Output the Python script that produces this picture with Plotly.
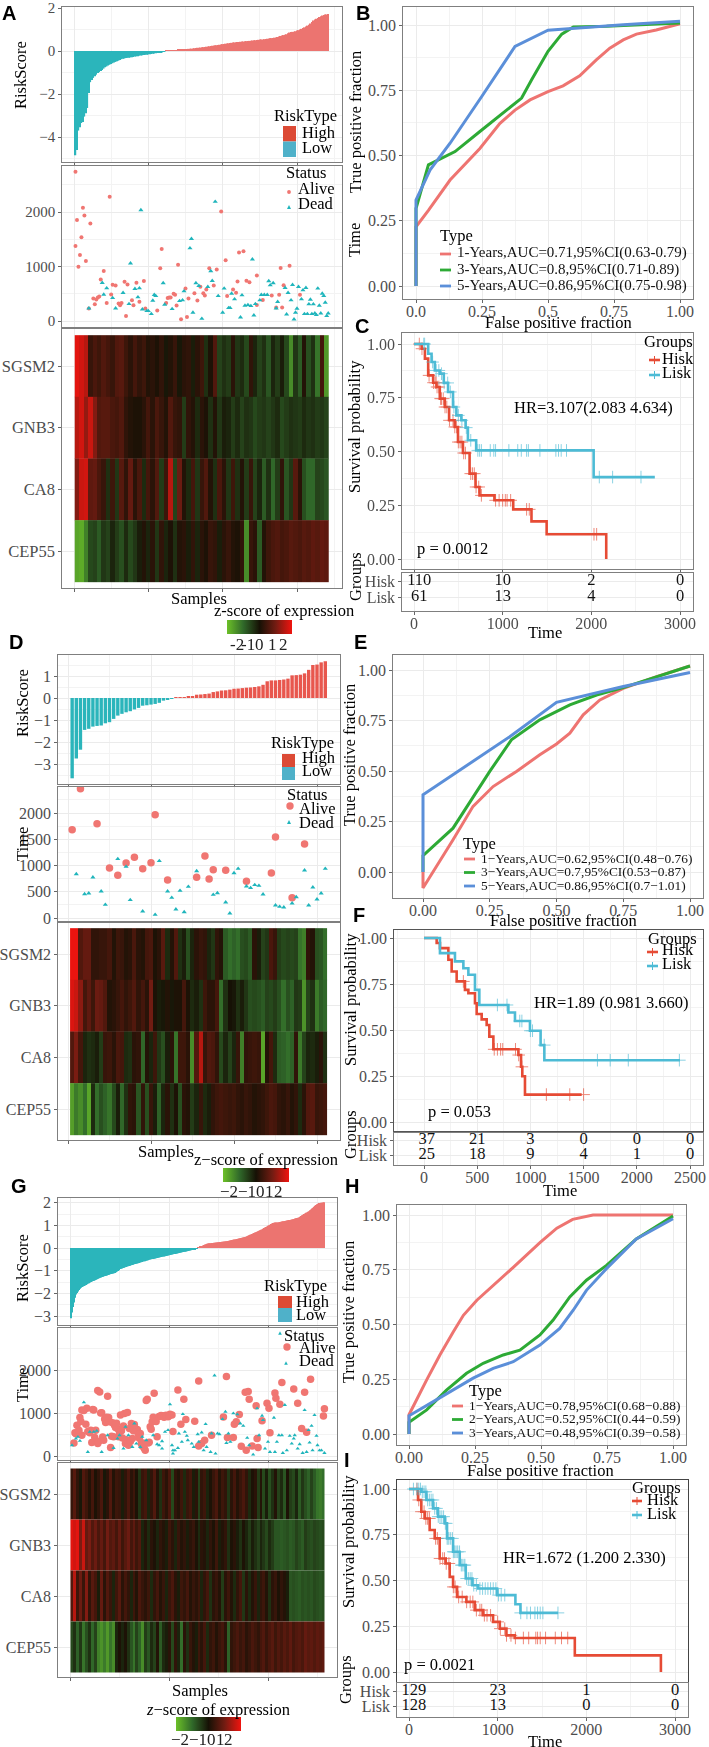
import plotly.graph_objects as go

W, H = 709, 1747
SERIF = "Liberation Serif"
GREY = "#4d4d4d"
RED_BAR, TEAL = "#EC7470", "#2BB5BB"
HISK, LISK = "#E64B35", "#4DBBD5"
ROC_R, ROC_G, ROC_B = "#EE7471", "#2DAA35", "#5B8FD9"
GENES = ["SGSM2", "GNB3", "CA8", "CEP55"]

# ---------- Panel A ----------
A_low = [-4.85,-4.6,-3.7,-3.55,-3.35,-3.3,-3.05,-2.9,-2.65,-1.95,-1.45,-1.35,-1.25,-1.18,-1.1,-1.02,-.98,-.93,-.88,-.82,
         -.76,-.72,-.68,-.64,-.6,-.57,-.54,-.51,-.48,-.45,-.42,-.38,-.36,-.35,-.33,-.32,-.31,-.30,-.29,-.28,
         -.26,-.25,-.24,-.22,-.21,-.2,-.19,-.18,-.17,-.16,-.15,-.14,-.13,-.12,-.1,-.09,-.08,-.06,-.05,-.03,-.01]
A_high = [.01,.01,.02,.02,.03,.03,.04,.04,.05,.05,.06,.07,.07,.08,.09,.1,.1,.11,.12,.13,
          .14,.15,.15,.16,.17,.18,.19,.2,.21,.22,.23,.24,.25,.26,.27,.28,.29,.3,.32,.33,
          .34,.35,.36,.37,.38,.39,.4,.41,.42,.42,.43,.44,.44,.45,.46,.47,.47,.48,.49,.5,
          .5,.51,.52,.53,.54,.54,.55,.56,.57,.58,.59,.6,.61,.62,.63,.65,.67,.7,.72,.74,
          .76,.78,.82,.86,.88,.89,.9,.92,.95,.97,1.0,1.03,1.07,1.1,1.14,1.18,1.22,1.28,1.35,1.42,
          1.46,1.5,1.54,1.58,1.62,1.65,1.68,1.7,1.7,1.72]
A_alive_x = [1,1,2,3,4,5,6,7,8,11,10,13,14,15,16,17,18,20,22,24,25,26,28,30,31,32,34,35,36,39,40,42,44,47,48,56,58,59,62,63,64,65,67,68,69,70,72,75,76,77,81,83,85,87,88,89,91,94,96,99,102,103,107,109,110,111,114,116,118,123,123,127,133,136,138,139,140,141,145,152]
A_alive_t = [2737,1378,1851,996,1212,1538,2079,1937,1101,1790,228,412,308,394,431,449,763,916,332,2282,486,664,652,320,289,332,720,92,670,381,289,701,351,732,228,191,966,1322,332,424,431,431,498,480,283,1033,31,597,74,412,510,375,627,510,467,578,966,652,947,2011,1113,461,578,517,726,1255,1279,738,713,295,836,387,467,246,480,972,246,658,1015,480]
A_dead_x = [10,19,20,22,26,28,33,37,38,41,43,44,45,46,49,50,52,53,54,55,60,61,66,71,73,74,78,79,80,82,84,86,90,92,93,95,97,100,101,104,105,106,108,112,113,115,117,119,120,121,122,125,126,128,130,131,132,134,136,137,142,143,144,146,147,148,149,150,151,153,154,155,156,157,158,159,160,161,162,163,164,165,166,167,168,169,170,171]
A_dead_t = [234,701,486,603,424,234,517,314,1058,590,437,603,2036,215,185,185,129,375,480,461,695,301,221,369,381,547,1335,1507,154,695,646,43,627,916,738,2189,461,154,597,240,240,504,400,68,474,283,295,277,1132,105,314,381,480,480,480,732,658,695,234,351,609,123,517,381,664,31,154,228,627,400,566,129,609,129,308,394,129,308,141,111,597,283,141,504,461,338,92,141]
A_heat = [
 [2.7,2.5,2.2,0.5,0.8,0.6,0.9,0.7,0.5,0.9,1.0,0.6,0.3,0.7,0.4,0.6,0.2,0.3,0.1,0.4,-0.1,0.2,0.5,-0.1,0.3,0.4,-0.2,0.3,0.6,-0.5,0.1,0.9,-0.8,-0.5,-0.7,0.3,-0.6,-0.4,-0.9,0.4,-0.3,-0.8,-0.5,-1.1,-0.3,-0.7,-0.2,-0.9,-2.0,-0.6,-1.2,0.2,-1.0,-0.5,-1.6,0.7,-2.2],
 [2.2,2.5,1.8,2.4,1.6,0.9,1.0,1.0,0.8,0.7,0.9,0.4,0.2,0.1,0.1,0.3,0.7,0.3,0.8,0.5,0.2,0.9,0.5,0.4,-0.7,0.4,0.2,-0.4,0.3,0.1,-0.5,0.2,-0.6,-0.2,-0.3,-0.7,-0.4,-0.8,-0.5,-0.6,-0.9,-0.7,-0.6,-0.8,-0.6,-0.4,-0.9,-0.7,-0.5,-0.6,-0.7,-0.4,-0.6,-0.5,-0.7,-0.6,-0.8],
 [1.6,2.4,2.5,1.1,1.2,0.8,0.5,-0.5,0.6,-0.6,1.0,0.4,1.2,0.3,0.8,-0.4,0.7,0.3,0.9,-0.7,0.6,2.2,-0.8,1.3,0.2,-0.4,0.7,-0.6,0.5,0.9,0.2,-0.5,0.8,0.3,-0.6,0.6,-0.5,0.2,-0.7,0.5,-0.8,-0.3,-1.2,-0.5,-1.4,-0.7,0.4,-1.1,-0.6,1.0,0.3,-1.0,-1.4,-1.4,-0.8,-0.9,-1.1],
 [-2.4,-2.5,-1.8,-0.9,-0.8,-1.2,-0.6,-0.8,-0.3,-0.7,-1.0,-0.4,-0.9,-0.6,-0.2,0.2,-0.3,0.3,-0.6,0.4,-0.3,0.1,-0.5,0.2,0.3,-0.2,0.4,-0.3,0.3,0.1,0.5,0.4,-0.2,0.3,0.5,0.2,0.1,0.4,-2.0,0.5,0.3,-1.2,0.2,0.6,0.8,0.9,0.7,0.8,1.0,0.9,0.8,1.0,0.9,1.1,1.0,1.2,1.1],
]
B_curves = [
 ("1-Years,AUC=0.71,95%CI(0.63-0.79)", ROC_R,
  [0,0,.047,.129,.242,.318,.375,.432,.5,.557,.62,.683,.734,.785,.835,.91,1],
  [0,.227,.29,.406,.527,.623,.674,.713,.745,.767,.805,.866,.911,.943,.965,.981,1.005]),
 ("3-Years,AUC=0.8,95%CI(0.71-0.89)", ROC_G,
  [0,0,.047,.148,.242,.306,.4,.438,.5,.552,.596,.722,1],
  [0,.297,.464,.515,.592,.643,.72,.79,.899,.965,.992,.995,1.008]),
 ("5-Years,AUC=0.86,95%CI(0.75-0.98)", ROC_B,
  [0,0,.053,.129,.249,.375,.5,.596,.785,1],
  [0,.329,.444,.547,.726,.918,.98,.988,1.001,1.014]),
]
C_hisk_t = [0,86,123,160,216,254,291,347,396,459,496,552,627,694,739,907,1119,1325,1496,2168]
C_hisk_s = [1,.978,.932,.854,.82,.80,.746,.707,.645,.614,.544,.493,.397,.335,.296,.273,.231,.175,.115,0]
C_lisk_t = [0,160,198,235,291,336,384,440,478,534,582,608,701,1056,2026,2716]
C_lisk_s = [1,.955,.916,.877,.862,.819,.777,.707,.668,.645,.611,.552,.505,.505,.381,.381]
C_hisk_cens = [60,90,170,220,240,250,260,280,300,310,330,350,370,400,440,460,480,500,520,540,560,580,640,660,680,700,730,760,920,960,1000,1030,1050,1090,1270,1300,2030,2060]
C_lisk_cens = [110,120,210,250,280,310,340,380,410,450,500,540,590,640,720,740,760,860,900,920,1070,1170,1210,1270,1290,1420,1600,1630,1660,1720,2090,2240,2560]
C_table_x = [60,1000,2000,3000]
C_table_hisk = ["110","10","2","0"]
C_table_lisk = ["61","13","4","0"]

# ---------- Panel D ----------
D_low = [-3.65,-2.75,-2.35,-1.45,-1.4,-1.3,-1.27,-1.25,-1.15,-1.1,-.95,-.8,-.72,-.65,-.6,-.52,-.45,-.35,-.33,-.3,-.27,-.22,-.12,-.07,-.04]
D_high = [.02,.03,.04,.05,.06,.15,.16,.18,.2,.27,.3,.34,.35,.38,.42,.43,.45,.47,.48,.5,.53,.6,.76,.8,.8,.82,.84,.88,1.03,1.04,1.06,1.12,1.28,1.5,1.52,1.62,1.67]
D_alive_x = [1,3,7,10,12,14,16,18,20,21,24,31,33,34,35,38,43,49,50,54,57]
D_alive_t = [1683,2464,1797,952,813,1048,1156,940,1054,1968,724,775,1181,743,921,908,698,857,1543,387,1410]
D_dead_x = [2,4,5,6,8,9,12,14,15,18,21,22,24,25,26,27,28,29,31,35,36,38,39,40,41,43,44,45,46,47,50,51,52,54,55,57,58,59,60,61,62]
D_dead_t = [838,457,470,775,508,254,1124,978,343,127,64,1086,508,387,165,521,114,597,895,445,476,298,89,857,940,603,572,629,616,451,241,216,203,279,400,908,241,584,356,470,940]
D_heat = [
 [2.8,2.8,0.9,1.2,1.2,0.4,0.4,0.5,0.5,0.7,0.2,0.6,0.5,0.2,0.3,0.8,0.3,0.2,0.7,0.8,0.1,0.3,1.0,-0.4,0.2,0.9,-0.5,-0.2,-1.0,-0.3,0.3,0.5,0.4,-0.3,-0.6,0.4,0.2,-1.2,-1.5,-1.3,-1.5,-1.0,-0.9,-1.2,0.3,-0.2,-0.8,-0.6,0.8,0.5,-0.7,-0.9,-0.8,-0.9,-0.8,-1.6,-1.8,0.4,0.2,-1.0,-1.1,-1.5],
 [2.6,2.4,1.7,0.7,1.1,0.6,1.3,1.2,0.9,0.2,0.3,0.5,0.7,0.4,0.6,0.9,0.4,0.7,0.3,1.4,0.1,-0.2,-0.1,0.2,-0.1,0.1,0.1,0.7,0.1,-0.4,-0.2,-0.5,0.6,0.3,0.3,0.7,-1.5,-0.5,0.0,-0.1,-0.5,-0.2,-0.6,-1.0,-0.9,-1.0,-1.2,-0.8,-0.9,-0.7,-1.0,-1.5,-1.0,-1.3,-0.6,-0.7,-2.1,-0.8,-0.5,-1.7,-1.2,-1.4],
 [0.9,1.5,0.7,-0.3,-0.5,-0.4,-0.2,-0.7,0.5,0.6,0.3,0.8,0.7,-0.4,-0.5,0.3,0.4,-1.4,0.2,-0.3,0.6,-0.6,-1.0,-0.2,0.3,-1.6,0.6,0.6,0.3,-2.0,0.9,2.2,0.5,0.9,0.8,0.4,-0.9,-0.3,-0.8,-0.3,0.5,-1.8,0.4,0.5,0.6,0.5,-2.4,0.2,0.7,-0.4,-1.2,-1.3,-1.5,-1.3,0.4,-1.7,-0.8,-0.3,-0.4,-0.2,0.3,-0.5],
 [-2.3,-1.7,-2.0,-1.5,-2.4,-0.4,-1.5,-1.0,-1.3,-1.6,-0.9,-0.2,-1.4,-0.5,0.4,0.3,-1.1,0.4,-1.0,0.5,-0.2,-1.3,-0.3,0.3,-0.5,0.1,-1.0,0.3,0.2,-0.7,-0.3,0.5,-0.4,-0.2,0.4,0.6,0.7,0.6,0.5,0.6,0.4,0.3,0.5,0.4,0.2,0.3,0.4,0.6,0.8,0.7,0.4,0.3,0.5,0.2,0.4,-0.4,0.3,0.9,1.0,0.5,0.6,0.7],
]
E_curves = [
 ("1\u2212Years,AUC=0.62,95%CI(0.48\u22120.76)", ROC_R,
  [0,0,.1125,.1875,.2625,.35,.4375,.5,.55,.6,.6625,.75,.875,1],
  [0,-.079,.16,.325,.423,.498,.58,.634,.687,.778,.852,.909,.967,1.02]),
 ("3\u2212Years,AUC=0.7,95%CI(0.53\u22120.87)", ROC_G,
  [0,0,.1125,.1875,.25,.331,.4375,.55,.65,.75,1],
  [0,.081,.217,.374,.498,.654,.753,.827,.876,.913,1.02]),
 ("5\u2212Years,AUC=0.86,95%CI(0.7\u22121.01)", ROC_B,
  [0,0,.325,.5,.75,1],
  [0,.382,.67,.84,.918,.988]),
]
F_hisk_t = [0,103,119,150,229,260,307,385,417,479,495,542,589,614,652,871,887,912,924,949,1482]
F_hisk_s = [1,1,.973,.945,.882,.818,.764,.718,.70,.645,.587,.558,.527,.464,.395,.395,.364,.30,.249,.149,.149]
F_lisk_t = [0,88,150,291,370,417,479,520,526,793,855,996,1096,1131,2406]
F_lisk_s = [1,1,.918,.873,.836,.80,.718,.636,.636,.595,.549,.496,.418,.336,.336]
F_hisk_cens = [370,660,690,720,740,860,890,920,1150,1370,1500]
F_lisk_cens = [690,780,900,920,1000,1020,1130,1630,1750,1920,2400]
F_table_x = [25,500,1000,1500,2000,2500]
F_table_hisk = ["37","21","3","0","0","0"]
F_table_lisk = ["25","18","9","4","1","0"]

# ---------- Panel G ----------
G_low = [-3.1,-2.85,-2.6,-2.4,-2.2,-2.05,-1.98,-1.92,-1.85,-1.8,-1.75,-1.72,-1.7,-1.68,-1.65,-1.63,-1.6,-1.57,-1.55,-1.52,
         -1.5,-1.48,-1.46,-1.44,-1.42,-1.4,-1.38,-1.36,-1.33,-1.31,-1.3,-1.28,-1.27,-1.25,-1.24,-1.22,-1.21,-1.19,-1.18,-1.16,
         -1.15,-1.14,-1.12,-1.11,-1.1,-1.07,-1.04,-1.01,-.98,-.95,-.93,-.91,-.9,-.88,-.87,-.85,-.84,-.82,-.81,-.79,-.78,-.76,
         -.75,-.74,-.72,-.71,-.7,-.68,-.67,-.66,-.64,-.63,-.62,-.6,-.59,-.58,-.56,-.55,-.54,-.52,-.51,-.5,-.49,-.48,-.47,-.46,
         -.45,-.44,-.43,-.42,-.41,-.4,-.39,-.38,-.37,-.36,-.35,-.34,-.33,-.32,-.31,-.3,-.29,-.28,-.27,-.26,-.25,-.24,-.23,-.22,
         -.21,-.2,-.19,-.18,-.17,-.16,-.15,-.14,-.13,-.12,-.11,-.1,-.09,-.08,-.07,-.05,-.04,-.02]
G_high = [.01,.03,.05,.07,.09,.11,.13,.15,.17,.19,.2,.205,.21,.215,.22,.225,.23,.235,.24,.245,
          .25,.255,.26,.265,.27,.275,.28,.285,.29,.295,.3,.31,.32,.33,.34,.35,.36,.37,.38,.39,
          .4,.41,.42,.43,.44,.45,.46,.47,.48,.5,.52,.54,.56,.58,.6,.62,.64,.66,.68,.7,.72,.74,.76,.78,.8,
          .82,.85,.88,.9,.93,.95,.98,1.0,1.03,1.06,1.08,1.1,1.11,1.12,1.12,1.13,1.13,1.14,1.15,1.16,1.17,1.18,1.18,1.19,1.2,
          1.21,1.22,1.23,1.24,1.25,1.26,1.27,1.28,1.3,1.31,1.32,1.33,1.35,1.38,1.41,1.44,1.47,1.5,1.52,1.55,1.57,1.6,1.62,
          1.66,1.7,1.74,1.78,1.82,1.86,1.9,1.93,1.95,1.97,1.98,1.99,2.0,2.0,2.01,2.02]
G_alive_x = [4,5,7,7,10,12,12,16,17,20,22,24,26,28,30,28,32,34,36,38,39,40,41,43,44,45,48,49,51,52,55,56,59,62,63,66,68,71,72,76,78,80,81,83,85,86,88,94,99,103,104,109,112,115,117,126,130,130,133,136,143,155,158,159,165,166,168,171,173,177,178,180,181,184,188,189,190,194,199,201,202,207,208,212,214,226,230,234,237,239,243,256,257,
             6,9,11,14,18,21,23,25,29,31,33,35,37,42,46,47,50,53,54,57,58,60,61,64,65,69,70,73,74,75,77,79,82,84,87,90,92,95,97,100,101]
G_alive_t = [304,538,718,523,897,1069,484,741,1108,538,312,1069,601,1521,1490,289,1006,367,780,1388,897,796,195,772,445,718,640,445,952,585,991,289,250,757,406,640,616,523,289,133,1318,320,679,796,1459,874,445,936,913,952,569,1537,741,1318,850,811,234,1747,289,367,484,905,1849,429,429,741,796,967,226,1482,133,1498,1318,234,1170,406,195,819,1225,1108,538,1466,1342,1201,1708,1560,1225,640,1482,554,1786,928,1100,
             520,600,800,1060,570,600,1080,430,340,1000,440,860,900,460,660,760,560,420,700,380,1010,640,340,590,730,500,410,230,300,180,1290,300,620,900,800,920,940,900,950,930,970]
G_dead_x = [2,6,8,10,14,18,20,24,27,32,38,44,48,50,54,56,59,63,65,67,71,73,77,84,88,90,93,93,96,99,101,103,104,104,106,109,110,113,114,116,118,119,123,125,129,130,133,135,137,138,142,143,146,147,149,151,154,157,158,160,162,165,169,172,175,179,181,185,189,191,194,195,197,200,202,206,207,209,211,214,215,217,219,222,224,226,227,230,232,235,237,239,241,242,244,245,247,249,250,252,254,257]
G_dead_t = [250,406,445,351,1248,94,562,562,585,94,484,187,406,484,172,679,484,211,757,289,211,445,367,484,273,250,343,172,562,601,1201,250,133,55,133,187,523,328,975,562,468,367,289,211,507,328,546,133,741,211,94,523,1872,55,523,507,858,1030,304,523,328,991,967,757,702,421,250,31,1108,484,936,835,172,328,94,889,94,328,484,484,70,1186,133,468,289,406,484,172,273,70,1069,94,601,312,702,133,952,468,250,133,133,70]
G_heat = [
 [0.5,1.0,0.4,-0.1,0.9,0.6,0.2,0.7,0.1,0.4,0.8,-0.1,0.3,0.9,0.2,0.6,0.5,-0.2,0.4,0.8,0.3,0.6,0.1,-0.6,0.5,0.7,-0.3,0.4,0.9,0.2,-0.5,0.6,0.3,0.8,-0.9,0.4,0.2,0.6,-0.4,0.5,0.7,-0.2,0.3,-0.8,0.4,0.6,-0.3,0.1,0.5,0.8,0.2,0.6,0.4,-0.6,0.3,0.7,0.2,0.5,0.8,0.4,-0.4,0.1,0.3,-0.7,0.2,-0.9,-0.2,-1.0,-0.5,0.2,-0.8,-0.4,-1.1,0.1,-0.7,-0.9,-0.3,-1.2,-0.6,-1.0,-1.3,-0.8,-1.2,-1.6,-1.7,-1.5],
 [2.7,2.5,2.7,1.5,2.4,1.2,1.5,0.9,1.3,0.8,1.2,0.7,1.4,0.9,1.1,0.7,1.2,0.6,1.0,1.3,0.7,1.1,0.6,0.9,-0.3,0.2,-0.4,0.3,0.1,-0.3,0.4,0.2,-0.2,0.6,0.3,-0.3,0.5,0.2,0.4,-0.2,0.3,0.5,0.1,-0.4,0.3,0.2,-0.3,0.4,0.1,0.6,-0.2,0.2,0.4,-0.5,0.1,0.3,-0.2,-0.5,0.1,-0.3,-0.7,-0.2,-0.5,-0.8,-0.3,-0.6,-0.9,-0.4,-0.7,-1.1,-1.1,-1.2,-1.1,-1.0,-1.2,-1.1,-0.8,-1.0,-1.2,-0.7,-0.9,-1.0,-0.8,-0.9,-1.0,-0.9],
 [0.9,2.2,0.6,1.3,0.5,1.6,0.4,1.0,0.7,-0.2,1.2,0.3,0.9,0.5,-0.3,0.6,1.0,0.3,0.7,0.4,-0.3,0.6,0.2,0.8,0.5,0.3,0.6,-0.4,0.4,0.7,0.2,0.5,-0.3,0.5,0.8,0.3,-0.2,0.6,0.4,0.7,0.2,0.5,0.3,0.6,-0.3,0.4,0.7,-0.5,0.3,0.5,0.2,-0.7,0.3,0.6,0.2,-0.4,0.4,0.7,-0.6,0.3,-0.4,0.2,0.5,-0.3,0.4,0.6,0.2,-0.5,0.3,0.5,0.1,0.4,0.2,-0.2,-1.1,-1.0,-1.1,-1.2,-1.0,-1.1,-1.0,-1.1,-0.9,-1.0,-1.1,-1.0],
 [-0.9,-0.5,-1.3,-0.6,-1.6,-1.0,-0.5,-1.4,-0.8,-1.8,-2.1,-1.7,-2.2,-1.6,-2.0,-0.3,0.1,-0.3,0.1,-0.5,-1.1,-1.6,-0.8,-1.3,-2.0,-0.7,-1.1,-0.4,-0.8,0.2,-1.2,-0.4,-0.2,0.3,-0.9,0.4,-0.3,-1.5,0.3,-0.5,0.5,0.2,-0.2,0.6,0.3,0.7,-0.4,0.4,0.6,0.2,0.5,0.7,0.3,-1.3,0.4,0.6,0.8,0.5,0.7,0.3,0.5,0.8,0.6,0.4,0.7,0.9,0.5,0.8,1.0,0.6,0.9,0.7,1.0,0.8,1.1,0.7,0.9,1.0,0.8,1.2,1.0,1.1,0.9,1.1,1.0,1.1],
]
H_curves = [
 ("1\u2212Years,AUC=0.78,95%CI(0.68\u22120.88)", ROC_R,
  [0,0,.067,.117,.168,.206,.257,.32,.396,.497,.56,.62,.697,1],
  [0,.088,.247,.361,.467,.542,.611,.679,.762,.875,.94,.98,1,1]),
 ("2\u2212Years,AUC=0.52,95%CI(0.44\u22120.59)", ROC_G,
  [0,0,.067,.142,.218,.281,.357,.42,.496,.546,.609,.672,.748,.861,1],
  [0,.053,.11,.2,.277,.323,.361,.383,.452,.52,.626,.702,.77,.891,.995]),
 ("3\u2212Years,AUC=0.48,95%CI(0.39\u22120.58)", ROC_B,
  [0,0,.092,.168,.243,.319,.395,.496,.571,.622,.672,.748,.861,1],
  [0,.083,.148,.2,.255,.3,.33,.406,.482,.565,.656,.755,.891,.983]),
]
I_hisk_t = [0,75,102,139,177,233,290,346,414,459,497,542,647,741,835,948,1024,1099,1193,1870,2841]
I_hisk_s = [1,1,.94,.876,.839,.776,.73,.62,.593,.52,.465,.41,.383,.338,.31,.274,.237,.20,.186,.091,0]
I_lisk_t = [0,139,196,271,327,403,429,497,572,640,715,779,994,1200,1257,1682]
I_lisk_s = [1,.985,.94,.894,.849,.812,.73,.657,.584,.511,.474,.456,.42,.37,.323,.323]
I_hisk_cens = [90,110,140,170,190,210,230,300,320,350,380,400,420,450,500,520,560,600,650,690,720,760,800,820,850,880,920,1000,1030,1080,1100,1150,1200,1290,1350,1430,1450,1480,1540,1650,1720,1790]
I_lisk_cens = [50,90,110,130,150,170,190,210,230,250,270,290,310,330,350,370,390,410,420,430,440,450,470,490,500,510,520,540,550,570,590,600,620,630,650,670,690,710,730,760,800,830,860,890,920,950,980,1010,1040,1080,1260,1330,1370,1420,1450,1480,1510,1680]
I_table_x = [55,1000,2000,3000]
I_table_hisk = ["129","23","1","0"]
I_table_lisk = ["128","13","0","0"]

# ---------- helpers ----------
fig = go.Figure()
n_ax = 0
anns, shapes = [], []

def minor_grid(step):
    if not step:
        return dict(showgrid=False)
    return dict(dtick=step, tick0=0, showgrid=True, gridcolor="#f3f3f3", gridwidth=1, ticks="")

def axis(box0, box1, p0, v0, p1, v1, ticks, labels, size, minor, border, flip=False):
    """box0/box1 panel edges in px; (p0,v0),(p1,v1) calibrate px to axis value."""
    scale = (v1 - v0) / (p1 - p0)
    rng = [v0 + (box0 - p0) * scale, v0 + (box1 - p0) * scale]
    dom = [box0 / W, box1 / W] if not flip else sorted([1 - box0 / H, 1 - box1 / H])
    d = dict(domain=dom, range=rng, tickmode="array", tickvals=ticks, ticks="outside", ticklen=2.5,
             tickwidth=1, tickcolor="#666", showline=True, mirror=True, linecolor=border, linewidth=1.4,
             showgrid=True, gridcolor="#ebebeb", gridwidth=1, zeroline=False, minor=minor_grid(minor),
             tickfont=dict(family=SERIF, size=size, color=GREY))
    if not flip:
        d["ticklabelstandoff"] = -5
    if labels is None:
        d["showticklabels"] = False
    else:
        d["ticktext"] = labels
    return d

def panel(left, right, top, bottom, xcal, ycal, xt, yt, xl=None, yl=None, xm=None, ym=None,
          size=16, border="#7f7f7f"):
    global n_ax
    n_ax += 1
    n = n_ax
    xa = axis(left, right, xcal[0], xcal[1], xcal[2], xcal[3], xt, xl, size, xm, border)
    ya = axis(bottom, top, ycal[0], ycal[1], ycal[2], ycal[3], yt, yl, size, ym, border, flip=True)
    xa["anchor"] = "y%d" % n
    ya["anchor"] = "x%d" % n
    fig.update_layout(**{"xaxis%d" % n: xa, "yaxis%d" % n: ya})
    return "x%d" % n, "y%d" % n

def T(x, y, text, size=16.5, color="black", anchor="center", angle=0, bold=False, family=SERIF):
    anns.append(dict(x=x / W, y=1 - y / H, xref="paper", yref="paper", text=text, showarrow=False,
                     xanchor=anchor, yanchor="middle", textangle=angle,
                     font=dict(family=family, size=size, color=color), borderpad=0, borderwidth=0))

def label(x, y, ch):
    T(x, y, "<b>%s</b>" % ch, size=20, family="Liberation Sans")

def rect(x0, y0, x1, y1, color):
    shapes.append(dict(type="rect", xref="paper", yref="paper", x0=x0 / W, x1=x1 / W, y0=1 - y0 / H, y1=1 - y1 / H,
                       fillcolor=color, line=dict(width=0), layer="above"))

def hline(x0, x1, y, color, w=2.5):
    shapes.append(dict(type="line", xref="paper", yref="paper", x0=x0 / W, x1=x1 / W, y0=1 - y / H, y1=1 - y / H,
                       line=dict(color=color, width=w), layer="above"))

def vline(x, y0, y1, color, w=1):
    shapes.append(dict(type="line", xref="paper", yref="paper", x0=x / W, x1=x / W, y0=1 - y0 / H, y1=1 - y1 / H,
                       line=dict(color=color, width=w), layer="above"))

def dot(x, y, r, color):
    shapes.append(dict(type="circle", xref="paper", yref="paper", x0=(x - r) / W, x1=(x + r) / W,
                       y0=1 - (y - r) / H, y1=1 - (y + r) / H, fillcolor=color, line=dict(width=0), layer="above"))

def tri(x, y, r, color):
    path = "M %f %f L %f %f L %f %f Z" % ((x - r) / W, 1 - (y + r) / H, (x + r) / W, 1 - (y + r) / H, x / W, 1 - (y - r) / H)
    shapes.append(dict(type="path", xref="paper", yref="paper", path=path, fillcolor=color, line=dict(width=0), layer="above"))

def bars(xa, ya, low, high, width, low_c, high_c):
    fig.add_trace(go.Bar(x=list(range(1, len(low) + 1)), y=low, width=width, marker=dict(color=low_c, line=dict(width=0)),
                         xaxis=xa, yaxis=ya, showlegend=False))
    fig.add_trace(go.Bar(x=list(range(len(low) + 1, len(low) + len(high) + 1)), y=high, width=width,
                         marker=dict(color=high_c, line=dict(width=0)), xaxis=xa, yaxis=ya, showlegend=False))

def points(xa, ya, ax, at, dx, dt, alive_size, dead_size):
    fig.add_trace(go.Scatter(x=ax, y=at, mode="markers", marker=dict(color="#F07672", size=alive_size, line=dict(width=0)),
                             xaxis=xa, yaxis=ya, showlegend=False))
    fig.add_trace(go.Scatter(x=dx, y=dt, mode="markers", marker=dict(color="#1FB5BC", size=dead_size, symbol="triangle-up", line=dict(width=0)),
                             xaxis=xa, yaxis=ya, showlegend=False))

COLORSCALE = [[0, "rgb(108,192,40)"], [0.25, "rgb(48,105,42)"], [0.5, "rgb(22,17,5)"], [0.75, "rgb(115,28,18)"], [1, "rgb(240,20,15)"]]

def heat(xa, ya, rows, n, cb_x, cb_y, cb_len):
    for i, row in enumerate(rows):
        dx = n / len(row)
        tr = go.Heatmap(z=[row], x0=0.5 + dx / 2, dx=dx, y0=3 - i, dy=1, zmin=-2.85, zmax=2.85, colorscale=COLORSCALE,
                        xaxis=xa, yaxis=ya, showscale=(i == 0), hoverinfo="skip")
        if i == 0:
            tr.colorbar = dict(orientation="h", x=cb_x / W, y=1 - cb_y / H, xanchor="left", yanchor="top",
                               len=cb_len, lenmode="pixels", thickness=14, thicknessmode="pixels", outlinewidth=0,
                               showticklabels=False, ticks="", xpad=0, ypad=0)
        fig.add_trace(tr)

def cb_labels(y, xs, texts):
    for x, t in zip(xs, texts):
        T(x, y, t, size=17, color="#222")

def roc(xa, ya, curves, lx, ly, dy, tsize):
    for (name, col, fx, ty) in curves:
        fig.add_trace(go.Scatter(x=fx, y=ty, mode="lines", line=dict(color=col, width=3), xaxis=xa, yaxis=ya, showlegend=False))
    for i, (name, col, fx, ty) in enumerate(curves):
        y = ly + i * dy
        hline(lx, lx + 11, y + 1, col, 2.8)
        T(lx + 17, y, name, size=tsize, anchor="left", color="#111")

def step_at(ts, ss, t):
    val = ss[0]
    for a, b in zip(ts, ss):
        if a <= t:
            val = b
    return val

def km(xa, ya, t, s, cens, col):
    fig.add_trace(go.Scatter(x=t, y=s, mode="lines", line=dict(color=col, width=2.6, shape="hv"), xaxis=xa, yaxis=ya, showlegend=False))
    fig.add_trace(go.Scatter(x=cens, y=[step_at(t, s, c) for c in cens], mode="markers", opacity=0.65,
                             marker=dict(symbol="cross-thin", size=9, color=col, line=dict(color=col, width=1)),
                             xaxis=xa, yaxis=ya, showlegend=False))

def table(xa, ya, xs, hisk, lisk):
    fig.add_trace(go.Scatter(x=xs, y=[1] * len(xs), text=hisk, mode="text", textfont=dict(family=SERIF, size=16.5, color="#111"),
                             textposition="middle center", xaxis=xa, yaxis=ya, showlegend=False))
    fig.add_trace(go.Scatter(x=xs, y=[0] * len(xs), text=lisk, mode="text", textfont=dict(family=SERIF, size=16.5, color="#111"),
                             textposition="middle center", xaxis=xa, yaxis=ya, showlegend=False))

def km_legend(cx, ty, lx0, lx1, tx, hy, ly):
    T(cx, ty, "Groups", size=16.5)
    for y, col, name in [(hy, HISK, "Hisk"), (ly, LISK, "Lisk")]:
        hline(lx0, lx1, y + 2, col, 2.6)
        vline((lx0 + lx1) / 2, y - 2, y + 6, col, 1)
        T(tx, y, name, size=16.5, anchor="left")

def risk_legend(cx, ty, x0, x1, y0, y1, y2, tx, hy, ly):
    T(cx, ty, "RiskType", size=16.5)
    rect(x0, y0, x1, y1, "#DC4A35")
    rect(x0, y1, x1, y2, "#4FB1C9")
    T(tx, hy, "High", size=16.5, anchor="left")
    T(tx, ly, "Low", size=16.5, anchor="left")

OFF = ["%s" % g for g in GENES]
ROC_TICKS = [0, .25, .5, .75, 1]
ROC_LABELS = ["0.00", "0.25", "0.50", "0.75", "1.00"]

# ---------- A ----------
ax_cal = (74, 0, 297, 150)
xa, ya = panel(62, 342, 7, 162, ax_cal, (51, 0, 137, -4), [0, 50, 100, 150], [-4, -2, 0, 2],
               yl=["\u22124", "\u22122", "0", "2"], ym=1, xm=25, size=15)
bars(xa, ya, A_low, A_high, 1, TEAL, RED_BAR)
xa, ya = panel(62, 342, 166, 327, ax_cal, (321, 0, 212, 2000), [0, 50, 100, 150], [0, 1000, 2000],
               yl=["0", "1000", "2000"], xm=25, ym=500, size=15)
points(xa, ya, A_alive_x, A_alive_t, A_dead_x, A_dead_t, 4, 4.5)
xa, ya = panel(62, 342, 329, 588, ax_cal, (551, 0, 366, 3), [0, 50, 100, 150], [3, 2, 1, 0], yl=OFF, xm=25, size=16.5)
heat(xa, ya, A_heat, 171, 227, 620, 65)
cb_labels(644, [237, 248, 259, 272, 283], ["-2", "-1", "0", "1", "2"])
T(20, 75, "RiskScore", angle=-90)
T(199, 599, "Samples")
T(284, 610, "z-score of expression")
risk_legend(305, 115, 283, 296, 126, 141.5, 157, 302, 132, 148)
T(286, 173, "Status", size=16.5, anchor="left")
T(298, 189, "Alive", size=16.5, anchor="left")
T(298, 204, "Dead", size=16.5, anchor="left")
dot(289, 192, 1.9, "#F07672")
tri(289, 207, 2, "#1FB5BC")
label(9, 13, "A")

# ---------- B ----------
xa, ya = panel(403, 693, 7, 299, (416, 0, 680, 1), (286, 0, 25, 1), ROC_TICKS, ROC_TICKS,
               xl=["0.0", "0.25", "0.5", "0.75", "1.00"], yl=ROC_LABELS, xm=.125, ym=.125)
roc(xa, ya, B_curves, 440, 253, 16, 15)
T(558, 322, "False positive fraction")
T(355, 122, "True positive fraction", angle=-90)
T(355, 240, "Time", angle=-90)
T(440, 236, "Type", anchor="left")
label(363, 13, "B")

# ---------- C ----------
kx = (414, 0, 680, 3000)
xa, ya = panel(402, 693, 333, 569, kx, (559, 0, 344, 1), [0, 1000, 2000, 3000], ROC_TICKS,
               yl=ROC_LABELS, xm=500, ym=.125)
km(xa, ya, C_hisk_t, C_hisk_s, C_hisk_cens, HISK)
km(xa, ya, C_lisk_t, C_lisk_s, C_lisk_cens, LISK)
T(593, 407, "HR=3.107(2.083 4.634)")
T(452, 548, "p = 0.0012")
km_legend(668, 341, 649, 660, 662, 358, 373)
xa, ya = panel(402, 693, 573, 611, kx, (597, 0, 581, 1), [0, 1000, 2000, 3000], [1, 0], xl=["0", "1000", "2000", "3000"],
               yl=["Hisk", "Lisk"], xm=500)
table(xa, ya, C_table_x, C_table_hisk, C_table_lisk)
T(545, 632, "Time")
T(355, 427, "Survival probability", angle=-90)
T(355, 577, "Groups", angle=-90)
label(362, 326, "C")

# ---------- D ----------
dx_cal = (68, 0, 317, 60)
xa, ya = panel(58, 340, 655, 784, dx_cal, (698, 0, 764, -3), [0, 20, 40, 60], [-3, -2, -1, 0, 1],
               yl=["\u22123", "\u22122", "\u22121", "0", "1"], xm=10, ym=.5)
bars(xa, ya, D_low, D_high, 0.82, TEAL, "#E8574E")
xa, ya = panel(58, 340, 787, 921, dx_cal, (918, 0, 813, 2000), [0, 20, 40, 60], [0, 500, 1000, 1500, 2000, 2500],
               yl=["0", "500", "1000", "1500", "2000", "2500"], xm=10, ym=250)
points(xa, ya, D_alive_x, D_alive_t, D_dead_x, D_dead_t, 7.5, 4.5)
xa, ya = panel(58, 340, 923, 1140, dx_cal, (1109, 0, 954, 3), [0, 20, 40, 60], [3, 2, 1, 0], yl=OFF, xm=10, size=16)
heat(xa, ya, D_heat, 62, 223, 1168, 66)
cb_labels(1191, [229, 247, 260, 269, 278], ["\u22122", "\u22121", "0", "1", "2"])
T(22, 703, "RiskScore", angle=-90)
T(22, 844, "Time", angle=-90)
T(166, 1151, "Samples")
T(266, 1159, "z\u2212score of expression")
risk_legend(302, 742, 282, 295, 754, 767, 780, 302, 757, 770)
T(287, 794, "Status", size=16.5, anchor="left")
T(299, 808, "Alive", size=16.5, anchor="left")
T(299, 822, "Dead", size=16.5, anchor="left")
dot(290, 806, 3.7, "#F07672")
tri(289, 822, 2, "#1FB5BC")
label(16, 642, "D")

# ---------- E ----------
xa, ya = panel(393, 703, 655, 898, (423, 0, 690, 1), (872, 0, 670, 1), ROC_TICKS, ROC_TICKS,
               xl=ROC_LABELS, yl=ROC_LABELS, xm=.125, ym=.125)
roc(xa, ya, E_curves, 464, 858, 13.5, 13.4)
T(563, 920, "False positive fraction")
T(350, 755, "True positive fraction", angle=-90)
T(463, 843, "Type", anchor="left")
label(360, 642, "E")

# ---------- F ----------
fx_cal = (424, 0, 690, 2500)
dark = "#555555"
xa, ya = panel(394, 703, 930, 1131, fx_cal, (1122, 0, 938, 1), [0, 500, 1000, 1500, 2000, 2500], ROC_TICKS,
               yl=ROC_LABELS, xm=250, ym=.125, border=dark)
km(xa, ya, F_hisk_t, F_hisk_s, F_hisk_cens, HISK)
km(xa, ya, F_lisk_t, F_lisk_s, F_lisk_cens, LISK)
T(611, 1003, "HR=1.89 (0.981 3.660)")
T(459, 1111, "p = 0.053")
km_legend(672, 938, 647, 658, 662, 950, 964)
xa, ya = panel(394, 703, 1133, 1165, fx_cal, (1155, 0, 1140, 1), [0, 500, 1000, 1500, 2000, 2500], [1, 0],
               xl=["0", "500", "1000", "1500", "2000", "2500"], yl=["Hisk", "Lisk"], xm=250)
table(xa, ya, F_table_x, F_table_hisk, F_table_lisk)
T(560, 1190, "Time")
T(350, 1000, "Survival probability", angle=-90)
T(350, 1135, "Groups", angle=-90)
label(359, 915, "F")

# ---------- G ----------
gx_cal = (70, 0, 268, 200)
xa, ya = panel(58, 337, 1198, 1325, gx_cal, (1248, 0, 1316, -3), [0, 100, 200], [-3, -2, -1, 0, 1, 2],
               yl=["\u22123", "\u22122", "\u22121", "0", "1", "2"], xm=50, ym=.5)
bars(xa, ya, G_low, G_high, 1, TEAL, RED_BAR)
xa, ya = panel(58, 337, 1328, 1460, gx_cal, (1456, 0, 1370, 2000), [0, 100, 200], [0, 1000, 2000],
               yl=["0", "1000", "2000"], xm=50, ym=500)
points(xa, ya, G_alive_x, G_alive_t, G_dead_x, G_dead_t, 7.5, 3.8)
xa, ya = panel(58, 337, 1463, 1677, gx_cal, (1647, 0, 1494, 3), [0, 100, 200], [3, 2, 1, 0], yl=OFF, xm=50, size=16)
heat(xa, ya, G_heat, 257, 176, 1717, 65)
cb_labels(1739, [180, 198, 211, 220, 228], ["\u22122", "\u22121", "0", "1", "2"])
T(22, 1268, "RiskScore", angle=-90)
T(22, 1385, "Time", angle=-90)
T(200, 1690, "Samples")
T(218, 1709, "<i>z</i>\u2212score of expression")
risk_legend(295, 1285, 278, 292, 1296, 1308, 1322, 296, 1301, 1314)
T(284, 1335, "Status", size=16.5, anchor="left")
T(299, 1347, "Alive", size=16.5, anchor="left")
T(299, 1360, "Dead", size=16.5, anchor="left")
tri(280, 1333, 1.8, "#1FB5BC")
dot(287, 1347, 3.7, "#F07672")
tri(286, 1363, 1.8, "#1FB5BC")
label(19, 1186, "G")

# ---------- H ----------
xa, ya = panel(397, 686, 1205, 1445, (409, 0, 673, 1), (1434, 0, 1215, 1), ROC_TICKS, ROC_TICKS,
               xl=ROC_LABELS, yl=ROC_LABELS, xm=.125, ym=.125)
roc(xa, ya, H_curves, 452, 1405, 13.5, 13.4)
T(540, 1470, "False positive fraction")
T(348, 1312, "True positive fraction", angle=-90)
T(485, 1390, "Type")
label(352, 1186, "H")

# ---------- I ----------
ix_cal = (409, 0, 675, 3000)
xa, ya = panel(397, 688, 1480, 1682, ix_cal, (1672, 0, 1489, 1), [0, 1000, 2000, 3000], ROC_TICKS,
               yl=ROC_LABELS, xm=500, ym=.125, border="#444444")
km(xa, ya, I_hisk_t, I_hisk_s, I_hisk_cens, HISK)
km(xa, ya, I_lisk_t, I_lisk_s, I_lisk_cens, LISK)
T(584, 1557, "HR=1.672 (1.200 2.330)")
T(439, 1664, "p = 0.0021")
km_legend(656, 1487, 632, 642, 647, 1499, 1513)
xa, ya = panel(397, 688, 1683, 1717, ix_cal, (1706, 0, 1691, 1), [0, 1000, 2000, 3000], [1, 0],
               xl=["0", "1000", "2000", "3000"], yl=["Hisk", "Lisk"], xm=500)
table(xa, ya, I_table_x, I_table_hisk, I_table_lisk)
T(545, 1741, "Time")
T(348, 1542, "Survival probability", angle=-90)
T(345, 1680, "Groups", angle=-90)
label(347, 1460, "I")

fig.update_layout(width=W, height=H, margin=dict(l=0, r=0, t=0, b=0, autoexpand=False), autosize=False, paper_bgcolor="white",
                  plot_bgcolor="white", showlegend=False, annotations=anns, shapes=shapes, barmode="overlay",
                  font=dict(family=SERIF))
fig.write_html("out.html", config=dict(displayModeBar=False),
               post_script="document.body.style.margin='0';document.body.style.overflow='hidden';")
